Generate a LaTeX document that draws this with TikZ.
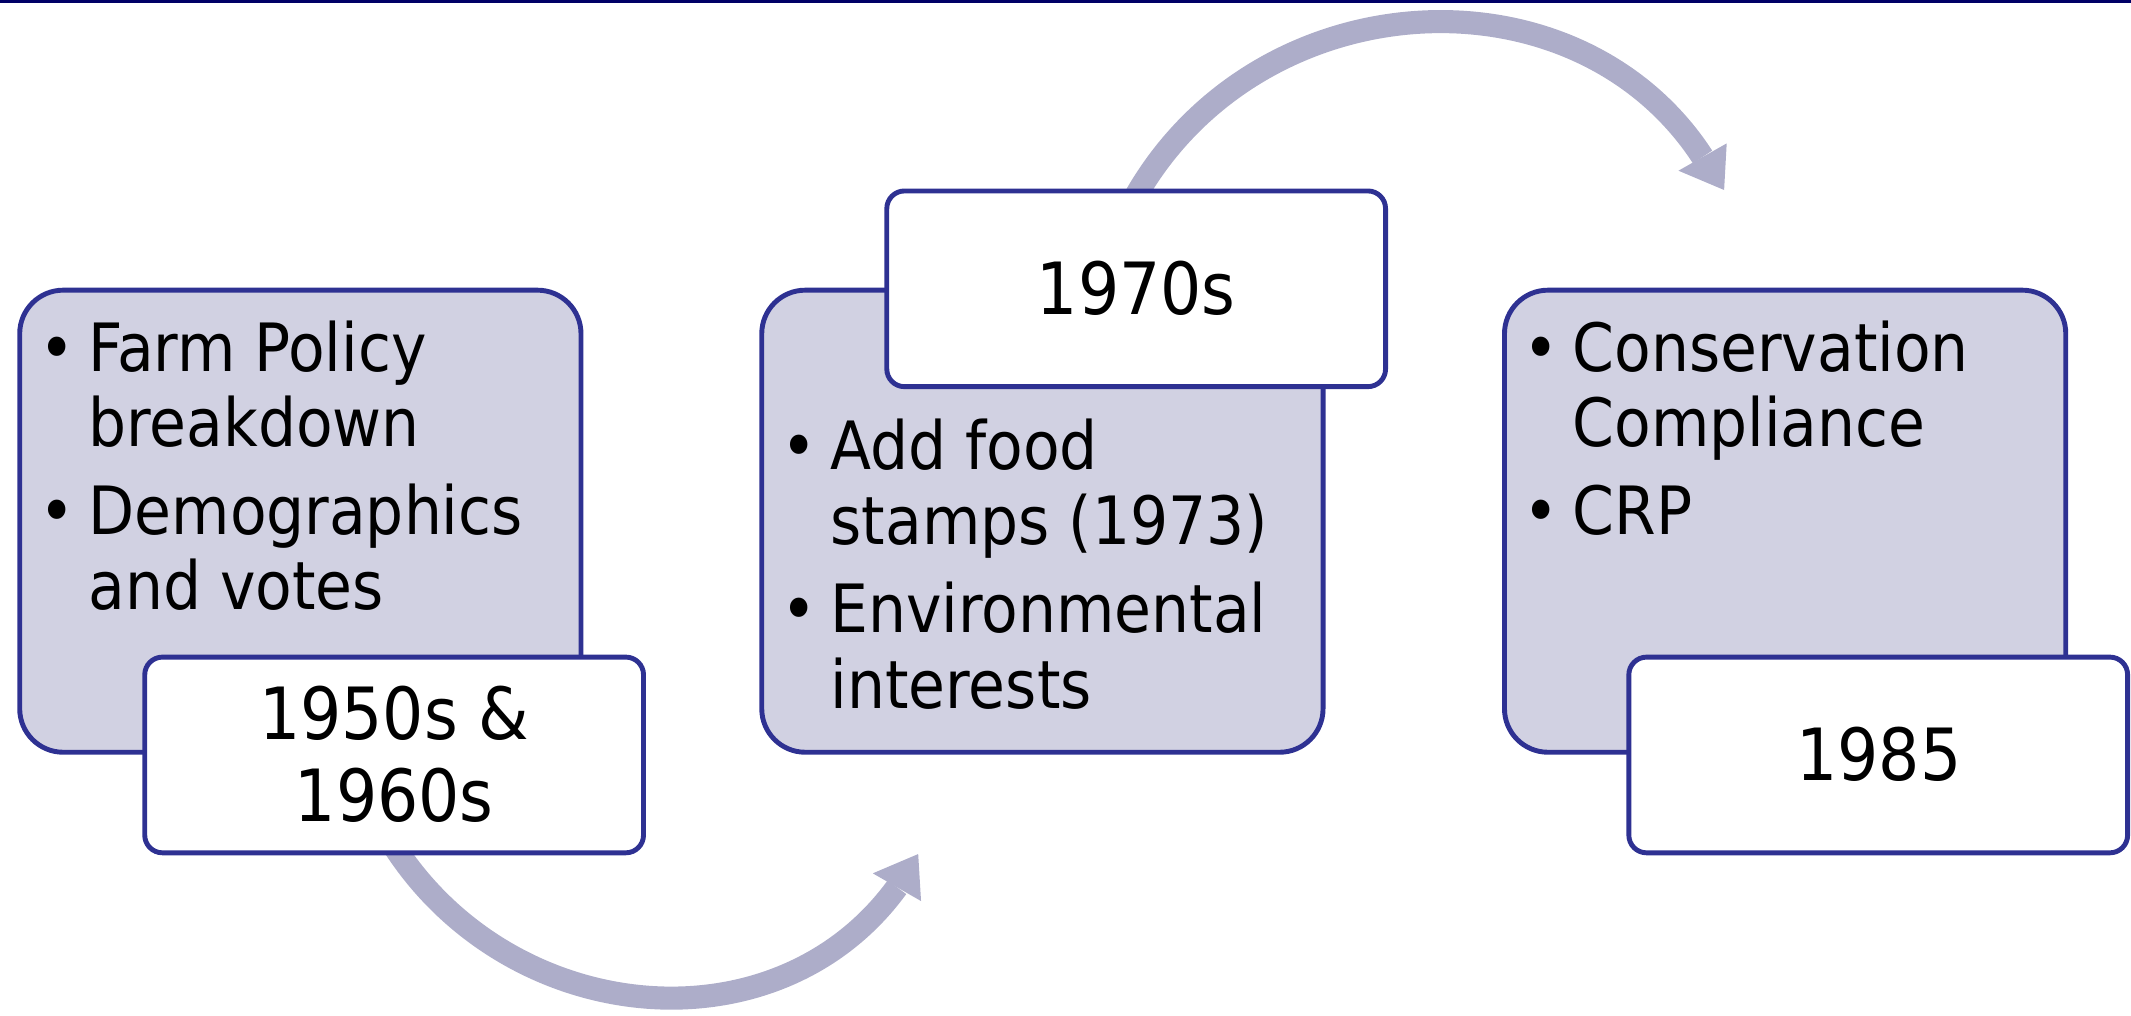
\documentclass[tikz,border=0pt]{standalone}
\usepackage{fontspec}
\setmainfont{DejaVu Sans Condensed}
\newcommand\itm{\leavevmode\llap{\textbullet\hspace{10pt}}}
\begin{document}
\begin{tikzpicture}[x=1pt,y=-1pt]
\definecolor{navy}{RGB}{0,0,102}
\definecolor{lav}{RGB}{209,209,226}
\definecolor{bord}{RGB}{46,49,146}
\definecolor{arr}{RGB}{173,173,201}
\tikzset{
 bigbox/.style={draw=bord, line width=3.6pt, fill=lav, rounded corners=32pt, inner sep=0pt, minimum width=413pt, minimum height=340pt},
 datebox/.style={draw=bord, line width=3.6pt, fill=white, rounded corners=13pt, inner sep=0pt, minimum width=367pt, minimum height=144pt},
 body/.style={anchor=base west, inner sep=0pt, font=\fontsize{49}{55.5}\selectfont},
 datetxt/.style={anchor=base, inner sep=0pt, font=\fontsize{53}{60.7}\selectfont},
 flow/.style={draw=arr, line width=17pt},
 head/.style={fill=arr}
}
\useasboundingbox (0,0) rectangle (1568,747);
\fill[navy] (0,0) rectangle (1568,2.5);
% connectors
\coordinate (s1) at (287,618);
\coordinate (e1) at (660,652.8);
\coordinate (s2) at (833,149);
\coordinate (e2) at (1252.75,115.5);
\draw[flow] (s1) .. controls (372,756) and (570.2,776) .. (e1);
\fill[head] (675.6,628.4) -- (642.2,642.6) -- (677.7,663) -- cycle;
\draw[flow] (s2) .. controls (922.5,-15) and (1158.7,-29) .. (e2);
\fill[head] (1268.6,139.8) -- (1270.5,105.5) -- (1235,125.6) -- cycle;
% boxes
\node[bigbox] (b1) at (221,383.5) {};
\node[datebox] (d1) at (290,555.5) {};
\node[bigbox] (b2) at (767,383.5) {};
\node[datebox] (d2) at (836,212.5) {};
\node[bigbox] (b3) at (1313.5,383.5) {};
\node[datebox] (d3) at (1382,555.5) {};
% texts
\node[body] (t1) at (65,273) {\parbox[t]{400pt}{\raggedright\itm Farm Policy\\breakdown\\[9pt]\itm Demographics\\and votes}};
\node[body] (t2) at (611,345.5) {\parbox[t]{400pt}{\raggedright\itm Add food\\stamps (1973)\\[9pt]\itm Environmental\\interests}};
\node[body] (t3) at (1157,273) {\parbox[t]{400pt}{\raggedright\itm Conservation\\Compliance\\[9pt]\itm CRP}};
\node[datetxt] (l1) at (290,544) {\parbox[t]{360pt}{\centering 1950s \&\\1960s}};
\node[datetxt] (l2) at (836,231.6) {1970s};
\node[datetxt] (l3) at (1382.5,574.4) {1985};
\end{tikzpicture}
\end{document}
